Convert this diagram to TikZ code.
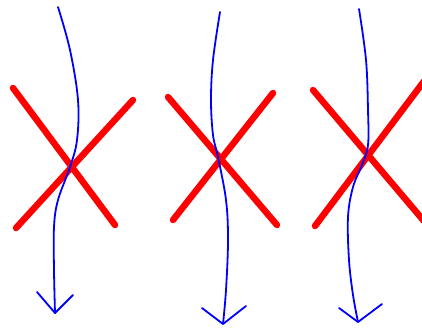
\documentclass[tikz,border=0pt]{standalone}
\usetikzlibrary{arrows.meta}
\tikzset{
  crossline/.style={draw={rgb,255:red,255;green,0;blue,0}, line width=6.5pt, line cap=round},
  flowline/.style={draw={rgb,255:red,0;green,0;blue,255}, line width=1.8pt, line cap=round, line join=round},
  wing/.style={draw={rgb,255:red,0;green,0;blue,255}, line width=1.8pt, line cap=round, line join=round}
}
\begin{document}
\begin{tikzpicture}[x=1pt,y=-1pt]
\useasboundingbox (0,0) rectangle (422,329);
\clip (0,0) rectangle (422,329);
% panel 1
\draw[crossline] (13,88) -- (115,225);
\draw[crossline] (133,100) -- (16,228);
\draw[flowline] plot[smooth,tension=0.6] coordinates {(58,7) (70,50) (78,100) (77,140) (70,167) (58,200) (54,227) (54,270) (55,313)};
\draw[wing] (37,292) -- (55,313) -- (73,295);
% panel 2
\draw[crossline] (168,97) -- (277,225);
\draw[crossline] (273,93) -- (173,220);
\draw[flowline] plot[smooth,tension=0.6] coordinates {(220,12) (213,60) (211,100) (213,135) (218,157) (226,200) (228,240) (226,290) (223,324)};
\draw[wing] (202,308) -- (223,324) -- (246,306);
% panel 3
\draw[crossline] (313,90) -- (440,240);
\draw[crossline] (440,60) -- (315,226);
\draw[flowline] plot[smooth,tension=0.6] coordinates {(359,9) (366,60) (368,110) (368,145) (362,165) (353,187) (348,217) (349,260) (353,295) (358,322)};
\draw[wing] (339,308) -- (358,322) -- (382,304);
\end{tikzpicture}
\end{document}
